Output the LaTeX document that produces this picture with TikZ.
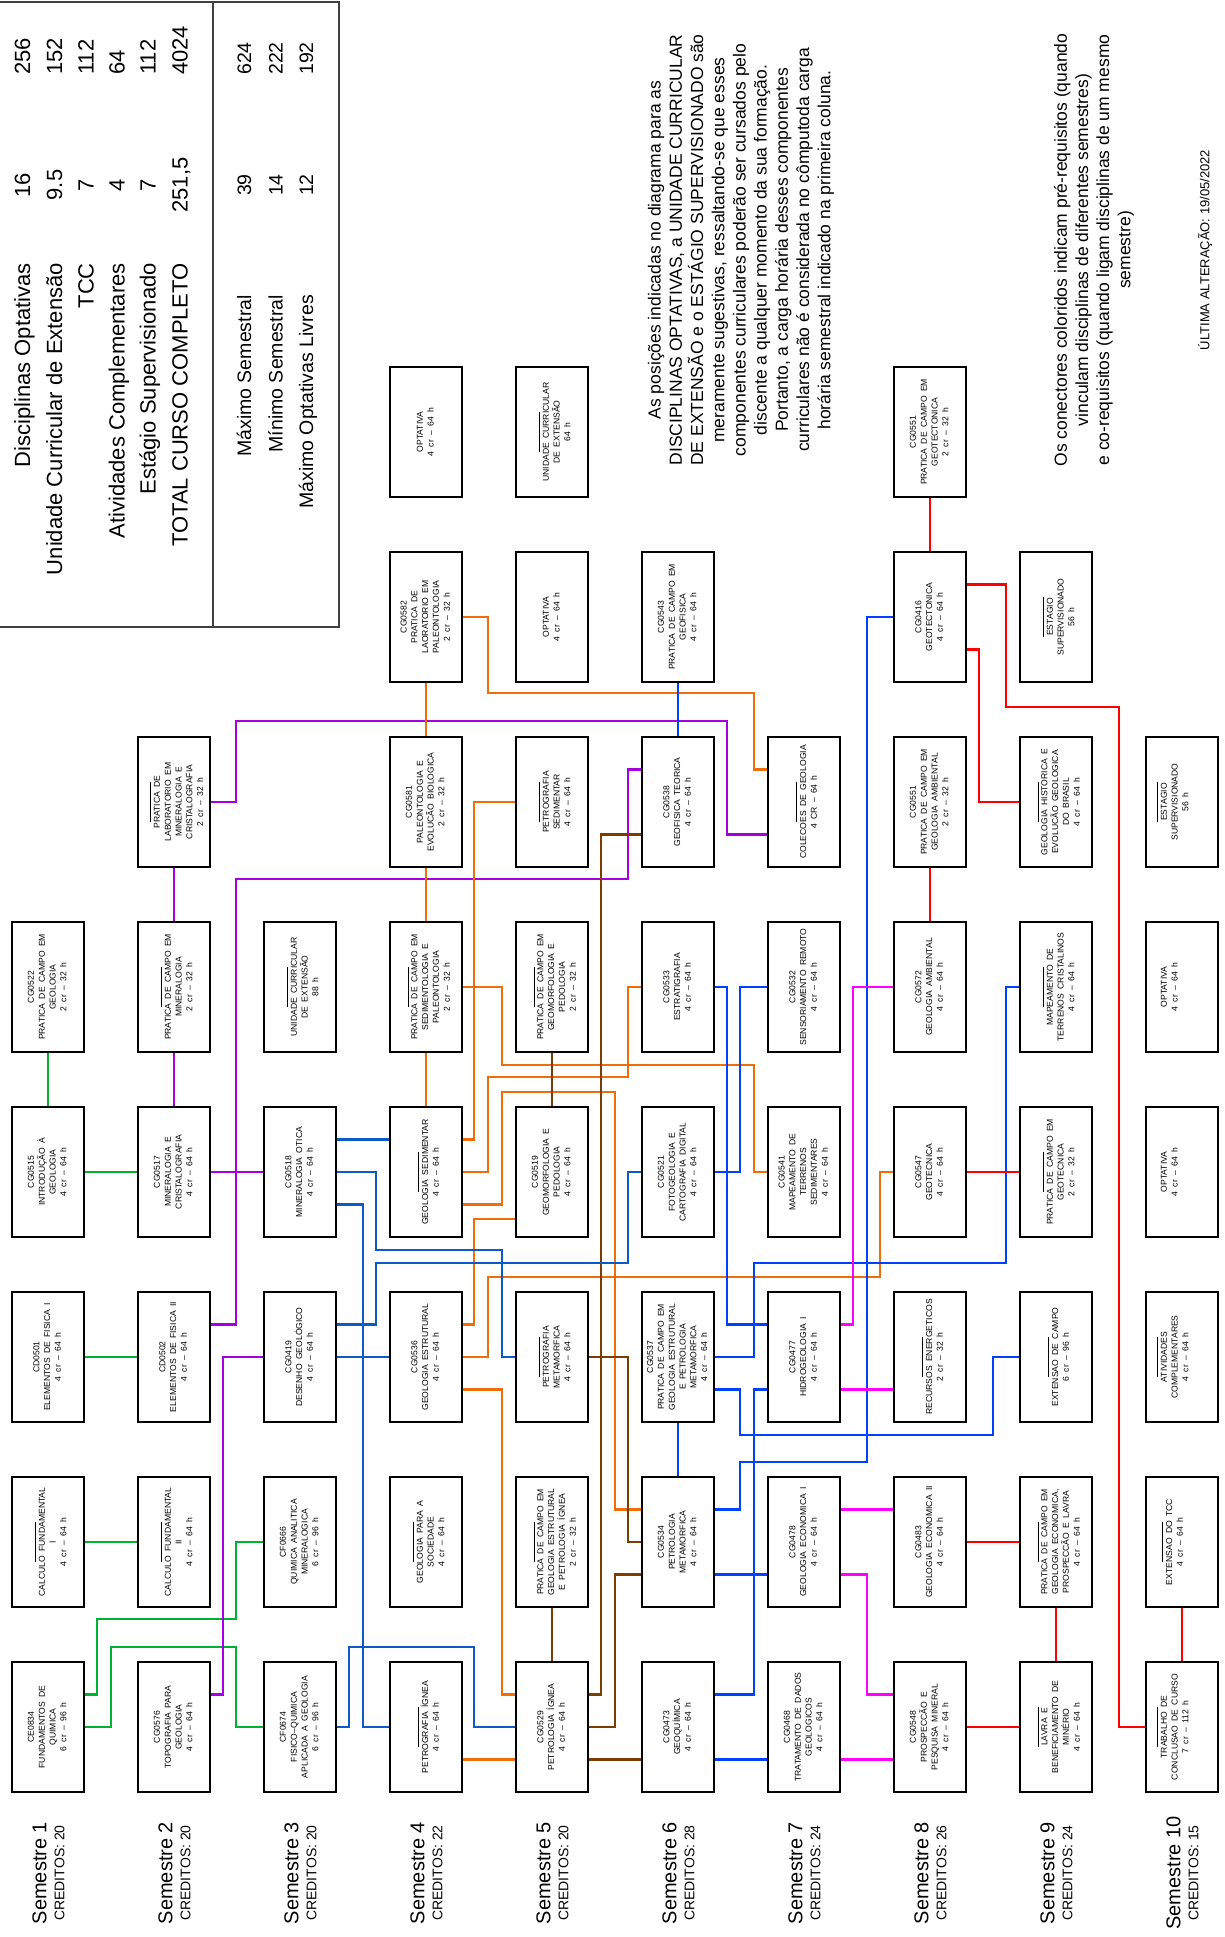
\documentclass[tikz,border=0pt]{standalone}
\usepackage{graphicx}
\usepackage{fontspec}
\setmainfont{Liberation Sans}
\newfontfamily\boxfont[WordSpace=1.8]{Liberation Sans}
\usetikzlibrary{calc}
\definecolor{cgreen}{RGB}{0,178,50}
\definecolor{cpurple}{RGB}{165,0,225}
\definecolor{corange}{RGB}{240,110,10}
\definecolor{cbrown}{RGB}{125,60,0}
\definecolor{cdblue}{RGB}{10,90,200}
\definecolor{cblue}{RGB}{0,64,255}
\definecolor{cmag}{RGB}{255,0,255}
\definecolor{cred}{RGB}{255,0,0}
\newcommand\ph{\rule[-1.6pt]{40pt}{0.6pt}}
\newcommand\bt[1]{\rotatebox{90}{\begin{tabular}{@{}c@{}}#1\end{tabular}}}
\newcommand\btl[1]{\rotatebox{90}{\begin{tabular}{@{}c@{}}#1\end{tabular}}\kern24pt}
\newcommand\seml[2]{\rotatebox{90}{\begin{tabular}{@{}c@{}}\fontsize{20}{24}\selectfont Semestre #1\\ CREDITOS: #2\end{tabular}}}
\begin{document}
\begin{tikzpicture}[x=1pt,y=-1pt,
  box/.style={draw=black, line width=1.6pt, fill=white, minimum width=72pt, minimum height=130pt, inner sep=0pt, font=\boxfont\fontsize{8.6}{10.8}\selectfont},
  cn/.style={line width=2.8pt},
  grn/.style={cn, draw=cgreen},
  pur/.style={cn, draw=cpurple},
  org/.style={cn, draw=corange},
  brn/.style={cn, draw=cbrown},
  dbl/.style={cn, draw=cdblue},
  blu/.style={cn, draw=cblue},
  mag/.style={cn, draw=cmag},
  rd/.style={cn, draw=cred},
  semlab/.style={inner sep=0pt, font=\fontsize{14}{18}\selectfont},
  tl/.style={rotate=90, inner sep=0pt, font=\fontsize{22}{26}\selectfont},
  tr/.style={rotate=90, inner sep=0pt, font=\fontsize{19.5}{23}\selectfont},
  para/.style={rotate=90, inner sep=0pt, align=center, font=\fontsize{17.5}{21.2}\selectfont},
  tbl/.style={draw=black!75, line width=1.3pt}
]
\useasboundingbox (0,0) rectangle (1224,1937);
\fill[white] (0,0) rectangle (1224,1937);

% ---------- boxes ----------
\node[box] (b1r1) at (48,1727) {\bt{CE0834\\FUNDAMENTOS DE\\QUIMICA\\6 cr – 96 h}};
\node[box] (b1r2) at (48,1542) {\bt{\ph\\CALCULO FUNDAMENTAL\\I\\4 cr – 64 h}};
\node[box] (b1r3) at (48,1357) {\bt{CD0501\\ELEMENTOS DE FISICA I\\4 cr – 64 h}};
\node[box] (b1r4) at (48,1172) {\bt{CG0515\\INTRODUÇÃO À\\GEOLOGIA\\4 cr – 64 h}};
\node[box] (b1r5) at (48,987) {\bt{CG0522\\PRATICA DE CAMPO EM\\GEOLOGIA\\2 cr – 32 h}};

\node[box] (b2r1) at (174,1727) {\bt{CG0576\\TOPOGRAFIA PARA\\GEOLOGIA\\4 cr – 64 h}};
\node[box] (b2r2) at (174,1542) {\bt{\ph\\CALCULO FUNDAMENTAL\\II\\4 cr – 64 h}};
\node[box] (b2r3) at (174,1357) {\bt{CD0502\\ELEMENTOS DE FISICA II\\4 cr – 64 h}};
\node[box] (b2r4) at (174,1172) {\bt{CG0517\\MINERALOGIA E\\CRISTALOGRAFIA\\4 cr – 64 h}};
\node[box] (b2r5) at (174,987) {\bt{\ph\\PRATICA DE CAMPO EM\\MINERALOGIA\\2 cr – 32 h}};
\node[box] (b2r6) at (174,802) {\bt{\ph\\PRATICA DE\\LABORATORIO EM\\MINERALOGIA E\\CRISTALOGRAFIA\\2 cr – 32 h}};

\node[box] (b3r1) at (300,1727) {\bt{CF0674\\FISICO–QUIMICA\\APLICADA A GEOLOGIA\\6 cr – 96 h}};
\node[box] (b3r2) at (300,1542) {\bt{CF0666\\QUIMICA ANALITICA\\MINERALOGICA\\6 cr – 96 h}};
\node[box] (b3r3) at (300,1357) {\bt{CG0419\\DESENHO GEOLÓGICO\\4 cr – 64 h}};
\node[box] (b3r4) at (300,1172) {\bt{CG0518\\MINERALOGIA OTICA\\4 cr – 64 h}};
\node[box] (b3r5) at (300,987) {\bt{\ph\\UNIDADE CURRICULAR\\DE EXTENSÃO\\88 h}};

\node[box] (b4r1) at (426,1727) {\bt{\ph\\PETROGRAFIA ÍGNEA\\4 cr – 64 h}};
\node[box] (b4r2) at (426,1542) {\bt{\ph\\GEOLOGIA PARA A\\SOCIEDADE\\4 cr – 64 h}};
\node[box] (b4r3) at (426,1357) {\bt{CG0536\\GEOLOGIA ESTRUTURAL\\4 cr – 64 h}};
\node[box] (b4r4) at (426,1172) {\bt{\ph\\GEOLOGIA SEDIMENTAR\\4 cr – 64 h}};
\node[box] (b4r5) at (426,987) {\bt{\ph\\PRATICA DE CAMPO EM\\SEDIMENTOLOGIA E\\PALEONTOLOGIA\\2 cr – 32 h}};
\node[box] (b4r6) at (426,802) {\bt{CG0581\\PALEONTOLOGIA E\\EVOLUCÃO BIOLOGICA\\2 cr – 32 h}};
\node[box] (b4r7) at (426,617) {\bt{CG0582\\PRATICA DE\\LAORATORIO EM\\PALEONTOLOGIA\\2 cr – 32 h}};
\node[box] (b4r8) at (426,432) {\bt{OPTATIVA\\4 cr – 64 h}};

\node[box] (b5r1) at (552,1727) {\bt{CG0529\\PETROLOGIA ÍGNEA\\4 cr – 64 h}};
\node[box] (b5r2) at (552,1542) {\bt{\ph\\PRATICA DE CAMPO EM\\GEOLOGIA ESTRUTURAL\\E PETROLOGIA ÍGNEA\\2 cr – 32 h}};
\node[box] (b5r3) at (552,1357) {\bt{\ph\\PETROGRAFIA\\METAMORFICA\\4 cr – 64 h}};
\node[box] (b5r4) at (552,1172) {\bt{CG0519\\GEOMORFOLOGIA E\\PEDOLOGIA\\4 cr – 64 h}};
\node[box] (b5r5) at (552,987) {\bt{\ph\\PRATICA DE CAMPO EM\\GEOMORFOLOGIA E\\PEDOLOGIA\\2 cr – 32 h}};
\node[box] (b5r6) at (552,802) {\bt{\ph\\PETROGRAFIA\\SEDIMENTAR\\4 cr – 64 h}};
\node[box] (b5r7) at (552,617) {\bt{OPTATIVA\\4 cr – 64 h}};
\node[box] (b5r8) at (552,432) {\bt{\ph\\UNIDADE CURRICULAR\\DE EXTENSÃO\\64 h}};

\node[box] (b6r1) at (678,1727) {\bt{CG0473\\GEOQUÍMICA\\4 cr – 64 h}};
\node[box] (b6r2) at (678,1542) {\bt{CG0534\\PETROLOGIA\\METAMORFICA\\4 cr – 64 h}};
\node[box] (b6r3) at (678,1357) {\bt{CG0537\\PRATICA DE CAMPO EM\\GEOLOGIA ESTRUTURAL\\E PETROLOGIA\\METAMORFICA\\4 cr – 64 h}};
\node[box] (b6r4) at (678,1172) {\bt{CG0521\\FOTOGEOLOGIA E\\CARTOGRAFIA DIGITAL\\4 cr – 64 h}};
\node[box] (b6r5) at (678,987) {\bt{CG0533\\ESTRATIGRAFIA\\4 cr – 64 h}};
\node[box] (b6r6) at (678,802) {\bt{CG0538\\GEOFISICA TEORICA\\4 cr – 64 h}};
\node[box] (b6r7) at (678,617) {\bt{CG0543\\PRATICA DE CAMPO EM\\GEOFISICA\\4 cr – 64 h}};

\node[box] (b7r1) at (804,1727) {\bt{CG0468\\TRATAMENTO DE DADOS\\GEOLOGICOS\\4 cr – 64 h}};
\node[box] (b7r2) at (804,1542) {\bt{CG0478\\GEOLOGIA ECONOMICA I\\4 cr – 64 h}};
\node[box] (b7r3) at (804,1357) {\bt{CG0477\\HIDROGEOLOGIA I\\4 cr – 64 h}};
\node[box] (b7r4) at (804,1172) {\bt{CG0541\\MAPEAMENTO DE\\TERRENOS\\SEDIMENTARES\\4 cr – 64 h}};
\node[box] (b7r5) at (804,987) {\bt{CG0532\\SENSORIAMENTO REMOTO\\4 cr – 64 h}};
\node[box] (b7r6) at (804,802) {\bt{\ph\\COLECOES DE GEOLOGIA\\4 CR – 64 h}};

\node[box] (b8r1) at (930,1727) {\bt{CG0548\\PROSPECCÃO E\\PESQUISA MINERAL\\4 cr – 64 h}};
\node[box] (b8r2) at (930,1542) {\bt{CG0483\\GEOLOGIA ECONOMICA II\\4 cr – 64 h}};
\node[box] (b8r3) at (930,1357) {\bt{\ph\\RECURSOS ENERGETICOS\\2 cr – 32 h}};
\node[box] (b8r4) at (930,1172) {\bt{CG0547\\GEOTECNICA\\4 cr – 64 h}};
\node[box] (b8r5) at (930,987) {\bt{CG0572\\GEOLOGIA AMBIENTAL\\4 cr – 64 h}};
\node[box] (b8r6) at (930,802) {\bt{CG0551\\PRATICA DE CAMPO EM\\GEOLOGIA AMBIENTAL\\2 cr – 32 h}};
\node[box] (b8r7) at (930,617) {\bt{CG0416\\GEOTECTONICA\\4 cr – 64 h}};
\node[box] (b8r8) at (930,432) {\bt{CG0551\\PRATICA DE CAMPO EM\\GEOTECTONICA\\2 cr – 32 h}};

\node[box] (b9r1) at (1056,1727) {\bt{\ph\\LAVRA E\\BENEFICIAMENTO DE\\MINÉRIO\\4 cr – 64 h}};
\node[box] (b9r2) at (1056,1542) {\bt{\ph\\PRATICA DE CAMPO EM\\GEOLOGIA ECONOMICA,\\PROSPECCÃO E LAVRA\\4 cr – 64 h}};
\node[box] (b9r3) at (1056,1357) {\bt{\ph\\EXTENSAO DE CAMPO\\6 cr – 96 h}};
\node[box] (b9r4) at (1056,1172) {\bt{\ph\\PRATICA DE CAMPO EM\\GEOTECNICA\\2 cr – 32 h}};
\node[box] (b9r5) at (1056,987) {\bt{\ph\\MAPEAMENTO DE\\TERRENOS CRISTALINOS\\4 cr – 64 h}};
\node[box] (b9r6) at (1056,802) {\bt{\ph\\GEOLOGIA HISTORICA E\\EVOLUCÃO GEOLOGICA\\DO BRASIL\\4 cr – 64 h}};
\node[box] (b9r7) at (1056,617) {\bt{\ph\\ESTAGIO\\SUPERVISIONADO\\56 h}};

\node[box] (b10r1) at (1182,1727) {\btl{\ph\\TRABALHO DE\\CONCLUSAO DE CURSO\\7 cr – 112 h}};
\node[box] (b10r2) at (1182,1542) {\btl{\ph\\EXTENSAO DO TCC\\4 cr – 64 h}};
\node[box] (b10r3) at (1182,1357) {\btl{\ph\\ATIVIDADES\\COMPLEMENTARES\\4 cr – 64 h}};
\node[box] (b10r4) at (1182,1172) {\btl{OPTATIVA\\4 cr – 64 h}};
\node[box] (b10r5) at (1182,987) {\btl{OPTATIVA\\4 cr – 64 h}};
\node[box] (b10r6) at (1182,802) {\btl{\ph\\ESTAGIO\\SUPERVISIONADO\\56 h}};

% ---------- connectors ----------
% green
\draw[grn] ([yshift=32.5pt]b1r1.east) -| (97,1619) -| (236,1542) -- (b3r2.west);
\draw[grn] (b1r1.east) -| (111,1647) -| (236,1727) -- (b3r1.west);
\draw[grn] (b1r2.east) -- (b2r2.west);
\draw[grn] (b1r3.east) -- (b2r3.west);
\draw[grn] (b1r4.east) -- (b2r4.west);
\draw[grn] (b1r5.south) -- (b1r4.north);
% purple
\draw[pur] ([yshift=32.5pt]b2r1.east) -| (223,1357) -- (b3r3.west);
\draw[pur] (b2r6.east) -| (236,721) -| (727,834.5) -- ([yshift=-32.5pt]b7r6.west);
\draw[pur] ([yshift=32.5pt]b2r3.east) -| (236,879) -| (628,769.5) -- ([yshift=32.5pt]b6r6.west);
\draw[pur] (b2r4.east) -- (b3r4.west);
\draw[pur] (b2r6.south) -- (b2r5.north);
\draw[pur] (b2r5.south) -- (b2r4.north);
% orange
\draw[org] ([yshift=-32.5pt]b4r1.east) -- ([yshift=-32.5pt]b5r1.west);
\draw[org] ([yshift=-32.5pt]b4r3.east) -| (502,1694.5) -- ([yshift=32.5pt]b5r1.west);
\draw[org] (b4r7.east) -| (488,693) -| (754,769.5) -- ([yshift=32.5pt]b7r6.west);
\draw[org] (b4r7.south) -- (b4r6.north);
\draw[org] (b4r6.south) -- (b4r5.north);
\draw[org] (b4r5.south) -- (b4r4.north);
\draw[org] ([yshift=32.5pt]b4r4.east) -| (474,802) -- (b5r6.west);
\draw[org] (b4r5.east) -| (502,1065) -| (754,1172) -- (b7r4.west);
\draw[org] (b4r4.east) -| (488,1077) -| (628,987) -- (b6r5.west);
\draw[org] ([yshift=-32.5pt]b4r4.east) -| (502,1092) -| (615,1509.5) -- ([yshift=32.5pt]b6r2.west);
\draw[org] ([yshift=32.5pt]b4r3.east) -| (474,1219) -- ([yshift=-47pt]b5r4.west);
\draw[org] (b4r3.east) -| (488,1277) -| (880,1172) -- (b8r4.west);
% brown
\draw[brn] (b5r2.south) -- (b5r1.north);
\draw[brn] (b5r5.south) -- (b5r4.north);
\draw[brn] ([yshift=32.5pt]b5r1.east) -| (601,834.5) -- ([yshift=-32.5pt]b6r6.west);
\draw[brn] (b5r1.east) -| (615,1574.5) -- ([yshift=-32.5pt]b6r2.west);
\draw[brn] (b5r3.east) -| (628,1542) -- (b6r2.west);
\draw[brn] ([yshift=-32.5pt]b5r1.east) -- ([yshift=-32.5pt]b6r1.west);
% dark blue
\draw[dbl] (b3r1.east) -| (349,1647) -| (474,1727) -- (b5r1.west);
\draw[dbl] ([yshift=-32.5pt]b3r4.east) -| (363,1727) -- (b4r1.west);
\draw[dbl] ([yshift=32.5pt]b3r4.east) -- ([yshift=32.5pt]b4r4.west);
\draw[dbl] (b3r4.east) -| (376,1250) -| (502,1357) -- (b5r3.west);
\draw[dbl] ([yshift=32.5pt]b3r3.east) -| (376,1263) -| (628,1172) -- (b6r4.west);
\draw[dbl] (b3r3.east) -- (b4r3.west);
% blue
\draw[blu] (b6r5.east) -| (727,1324.5) -- ([yshift=32.5pt]b7r3.west);
\draw[blu] (b6r3.east) -| (754,1263) -| (1006,987) -- (b9r5.west);
\draw[blu] ([yshift=-32.5pt]b6r3.east) -| (740,1435) -| (993,1357) -- (b9r3.west);
\draw[blu] (b6r3.south) -- (b6r2.north);
\draw[blu] ([yshift=32.5pt]b6r2.east) -| (740,1462) -| (867,617) -- (b8r7.west);
\draw[blu] ([yshift=32.5pt]b6r1.east) -| (754,1389.5) -- ([yshift=-32.5pt]b7r3.west);
\draw[blu] ([yshift=-32.5pt]b6r2.east) -- ([yshift=-32.5pt]b7r2.west);
\draw[blu] ([yshift=-32.5pt]b6r1.east) -- ([yshift=-32.5pt]b7r1.west);
\draw[blu] (b6r4.east) -| (740,987) -- (b7r5.west);
\draw[blu] (b6r7.south) -- (b6r6.north);
% magenta
\draw[mag] ([yshift=32.5pt]b7r3.east) -| (853,987) -- (b8r5.west);
\draw[mag] ([yshift=-32.5pt]b7r3.east) -- ([yshift=-32.5pt]b8r3.west);
\draw[mag] ([yshift=32.5pt]b7r2.east) -- ([yshift=32.5pt]b8r2.west);
\draw[mag] ([yshift=-32.5pt]b7r2.east) -| (867,1694.5) -- ([yshift=32.5pt]b8r1.west);
\draw[mag] ([yshift=-32.5pt]b7r1.east) -- ([yshift=-32.5pt]b8r1.west);
% red
\draw[rd] (b8r8.south) -- (b8r7.north);
\draw[rd] ([yshift=32.5pt]b8r7.east) -| (1006,707) -| (1119,1727) -- (b10r1.west);
\draw[rd] ([yshift=-32.5pt]b8r7.east) -| (979,802) -- (b9r6.west);
\draw[rd] (b8r6.south) -- (b8r5.north);
\draw[rd] (b8r4.east) -- (b9r4.west);
\draw[rd] (b8r2.east) -- (b9r2.west);
\draw[rd] (b9r2.south) -- (b9r1.north);
\draw[rd] (b8r1.east) -- (b9r1.west);
\draw[rd] (b10r2.south) -- (b10r1.north);

% ---------- semester labels ----------
\node[semlab] (s1) at (51,1873) {\seml{1}{20}};
\node[semlab] (s2) at (177,1873) {\seml{2}{20}};
\node[semlab] (s3) at (303,1873) {\seml{3}{20}};
\node[semlab] (s4) at (429,1873) {\seml{4}{22}};
\node[semlab] (s5) at (555,1873) {\seml{5}{20}};
\node[semlab] (s6) at (681,1873) {\seml{6}{28}};
\node[semlab] (s7) at (807,1873) {\seml{7}{24}};
\node[semlab] (s8) at (933,1873) {\seml{8}{26}};
\node[semlab] (s9) at (1059,1873) {\seml{9}{24}};
\node[semlab] (s10) at (1185,1873) {\seml{10}{15}};

% ---------- table ----------
\draw[tbl] (0,2) -- (339,2) -- (339,627) -- (0,627);
\draw[tbl] (213,2) -- (213,627);
\node[tl, anchor=base east] (t1) at (30,263) {Disciplinas Optativas};
\node[tl, anchor=base east] (t2) at (62,263) {Unidade Curricular de Extensão};
\node[tl, anchor=base east] (t3) at (93.5,263) {TCC};
\node[tl, anchor=base east] (t4) at (124.5,263) {Atividades Complementares};
\node[tl, anchor=base east] (t5) at (155.5,263) {Estágio Supervisionado};
\node[tl, anchor=base east] (t6) at (187.5,263) {TOTAL CURSO COMPLETO};
\node[tr, anchor=base east] (t7) at (251,295) {Máximo Semestral};
\node[tr, anchor=base east] (t8) at (282.5,295) {Mínimo Semestral};
\node[tr, anchor=base east] (t9) at (313,295) {Máximo Optativas Livres};
\node[tl, anchor=base] (c1) at (30,185) {16};
\node[tl, anchor=base] (c2) at (62,185) {9.5};
\node[tl, anchor=base] (c3) at (93.5,185) {7};
\node[tl, anchor=base] (c4) at (124.5,185) {4};
\node[tl, anchor=base] (c5) at (155.5,185) {7};
\node[tl, anchor=base] (c6) at (187.5,185) {251,5};
\node[tr, anchor=base] (c7) at (251,185) {39};
\node[tr, anchor=base] (c8) at (282.5,185) {14};
\node[tr, anchor=base] (c9) at (313,185) {12};
\node[tl, anchor=base west] (h1) at (30,75) {256};
\node[tl, anchor=base west] (h2) at (62,75) {152};
\node[tl, anchor=base west] (h3) at (93.5,75) {112};
\node[tl, anchor=base west] (h4) at (124.5,75) {64};
\node[tl, anchor=base west] (h5) at (155.5,75) {112};
\node[tl, anchor=base west] (h6) at (187.5,75) {4024};
\node[tr, anchor=base west] (h7) at (251,75) {624};
\node[tr, anchor=base west] (h8) at (282.5,75) {222};
\node[tr, anchor=base west] (h9) at (313,75) {192};

% ---------- notes ----------
\node[para] (note1) at (741,250) {As posições indicadas no diagrama para as\\
DISCIPLINAS OPTATIVAS, a UNIDADE CURRICULAR\\
DE EXTENSÃO e o ESTÁGIO SUPERVISIONADO são\\
meramente sugestivas, ressaltando-se que esses\\
componentes curriculares poderão ser cursados pelo\\
discente a qualquer momento da sua formação.\\
Portanto, a carga horária desses componentes\\
curriculares não é considerada no cômputoda carga\\
horária semestral indicado na primeira coluna.};
\node[para] (note2) at (1094,250) {Os conectores coloridos indicam pré-requisitos (quando\\
vinculam disciplinas de diferentes semestres)\\
e co-requisitos (quando ligam disciplinas de um mesmo\\
semestre)};
\node[rotate=90, inner sep=0pt, font=\fontsize{13}{16}\selectfont] (upd) at (1205,250) {ÚLTIMA ALTERAÇÃO: 19/05/2022};
\end{tikzpicture}
\end{document}
